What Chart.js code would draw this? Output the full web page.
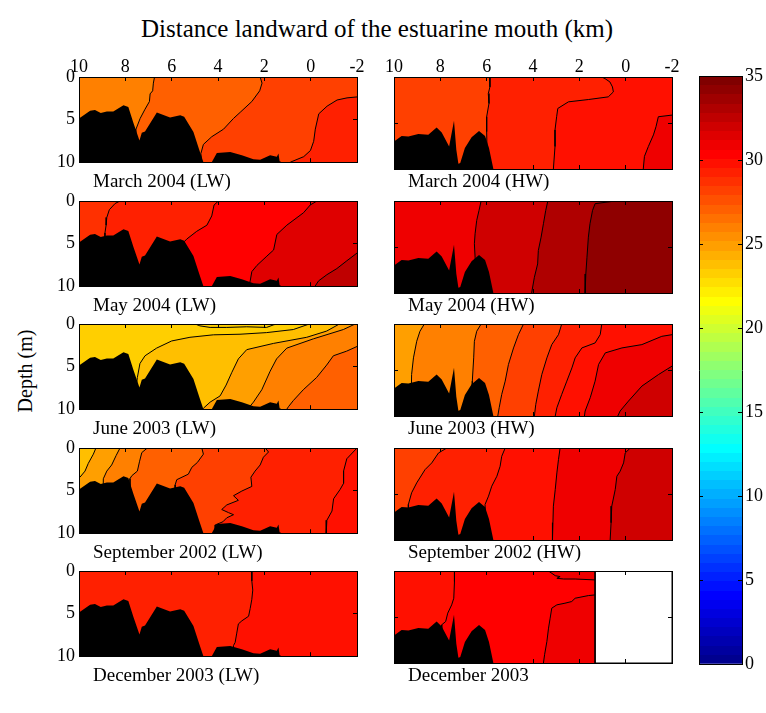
<!DOCTYPE html>
<html>
<head>
<meta charset="utf-8">
<script src="https://cdn.jsdelivr.net/npm/chart.js@4.4.1/dist/chart.umd.min.js"></script>
<style>
body { margin: 0; background: #fff; }
#fig { position: relative; width: 766px; height: 713px; font-family: 'Liberation Serif', 'Times New Roman', serif; color: #000; }
#fig canvas { position: absolute; }
.txt { position: absolute; white-space: nowrap; line-height: 19px; font-size: 19px; }
</style>
</head>
<body>
<div id="fig">
  <div class="txt" style="left:0;width:754px;text-align:center;top:19px;font-size:25px">Distance landward of the estuarine mouth (km)</div>
  <div class="txt" style="left:25px;top:371px;font-size:20px;transform:translate(-50%,-50%) rotate(-90deg)">Depth (m)</div>
</div>
<script>
// axis ticks
const xTicks = [10, 8, 6, 4, 2, 0, -2];
const depthTicks = [0, 5, 10];
const salinityTicks = [0, 5, 10, 15, 20, 25, 30, 35];

// bottom profiles [distance km, depth m]
const bathyLW = [[10,4.86],[9.52,3.96],[9.31,3.88],[9.06,4.24],[8.80,4.06],[8.52,4.06],[8.08,3.31],[7.87,3.53],[7.65,5.40],[7.39,7.45],[7.29,6.55],[7.15,6.40],[6.64,4.17],[6.07,4.75],[5.63,4.50],[5.46,4.68],[5.06,6.47],[4.80,8.63],[4.63,10],[4.27,10],[4.05,8.92],[3.47,8.81],[2.97,9.17],[2.47,9.64],[2.18,9.71],[1.75,9.17],[1.46,9.35],[1.39,8.99],[1.34,9.89],[1.24,10]];
const bathyHW = [[10,7.01],[9.67,6.40],[9.38,6.47],[8.95,6.19],[8.52,6.29],[8.16,5.50],[7.94,6.04],[7.62,7.55],[7.41,4.75],[7.31,7.91],[7.22,9.42],[7.14,9.35],[6.94,7.73],[6.65,6.55],[6.33,5.86],[6.07,6.40],[5.90,7.73],[5.71,10]];

// salinity of each band (left to right) and the isohalines between them
const marchLwLevels = [26, 27, 28, 29];
const marchLwContours = [
  [[6.74,0],[6.79,0.72],[6.82,1.62],[6.93,1.98],[6.96,2.88],[7.15,3.78],[7.36,4.86],[7.54,6.12],[7.56,10]],
  [[2.18,0],[2.10,0.72],[2.20,1.62],[2.54,2.88],[3.04,4.14],[3.33,4.86],[3.76,6.12],[4.27,7.01],[4.63,7.91],[4.74,8.99],[4.70,10]],
  [[-2,2.34],[-1.57,2.45],[-1.14,2.70],[-0.71,3.42],[-0.35,4.32],[-0.20,6.12],[-0.13,7.55],[0.01,8.63],[0.30,9.35],[0.88,10]]
];
const marchHwLevels = [28, 29, 30, 31];
const marchHwContours = [
  [[5.86,0],[5.86,1.08],[5.93,1.8],[5.90,2.88],[6.0,4.32],[6.0,5.94],[5.97,10]],
  [[1.03,0],[0.89,0.18],[0.68,0.54],[0.57,1.08],[0.53,1.62],[0.75,2.16],[1.61,2.45],[2.47,2.70],[2.93,3.42],[2.98,4.32],[3.05,5.76],[3.05,7.55],[3.12,10]],
  [[-2,4.14],[-1.41,4.32],[-1.31,5.40],[-1.20,6.29],[-0.98,7.55],[-0.81,8.63],[-0.76,10]]
];
const mayLwLevels = [28.5, 29.5, 30.5, 31.5, 32.5];
const mayLwContours = [
  [[8.23,0],[8.44,0.29],[8.69,1.02],[8.80,1.93],[8.83,2.84],[8.88,3.75],[8.88,10]],
  [[3.98,0],[4.17,0.47],[4.27,1.75],[4.48,2.84],[4.92,3.56],[5.35,4.47],[5.45,4.75],[5.5,10]],
  [[-0.27,0],[0.02,0.47],[0.31,1.38],[1.03,2.84],[1.46,3.93],[1.60,5.75],[1.89,6.47],[2.32,7.56],[2.54,8.29],[2.61,9.38],[2.68,10]],
  [[-2,6.11],[-1.56,7.02],[-1.13,7.93],[-0.70,8.65],[-0.34,9.38],[-0.19,10]]
];
const mayHwLevels = [31, 32, 33, 34];
const mayHwContours = [
  [[6.24,0],[6.33,1.02],[6.43,2.11],[6.50,3.56],[6.53,4.65],[6.50,6.11],[6.45,10]],
  [[3.36,0],[3.45,1.02],[3.55,2.47],[3.65,3.93],[3.77,5.38],[3.80,6.84],[3.94,8.29],[4.06,10]],
  [[0.45,0],[1.32,0.29],[1.43,1.02],[1.54,2.47],[1.61,3.93],[1.67,6.11],[1.72,7.93],[1.75,10]]
];
const juneLwLevels = [23, 24, 25, 26, 27];
const juneLwContours = [
  [[0.06,0],[0.75,0.65],[1.90,1.01],[3.05,1.20],[4.20,1.27],[5.21,1.56],[6.0,1.99],[6.65,2.83],[7.15,3.73],[7.37,4.64],[7.48,6.27],[7.54,7.54],[7.54,10]],
  [[-1.24,0],[-0.69,0.83],[0.17,1.56],[1.61,2.28],[2.76,3.01],[3.12,4.09],[3.41,5.72],[3.65,7.17],[3.91,8.44],[4.34,9.17],[4.63,9.89],[4.66,10]],
  [[-1.92,0],[-1.41,0.65],[-0.12,1.74],[1.03,2.83],[1.47,4.09],[1.75,5.54],[2.11,7.72],[2.47,9.17],[2.69,9.89],[2.72,10]],
  [[-2,2.64],[-1.55,3.19],[-0.98,3.73],[-0.69,4.82],[-0.26,6.27],[0.32,7.72],[0.75,8.99],[0.96,9.71],[1.03,10]]
];
const juneLwLens = [[4.99,0],[4.78,0.22],[4.34,0.40],[3.62,0.40],[2.76,0.33],[1.90,0.40],[1.61,0.11],[1.47,0]];
const juneHwLevels = [25, 26, 27, 28, 29, 30, 31, 32];
const juneHwContours = [
  [[8.69,0],[8.88,0.79],[9.02,1.88],[9.16,3.68],[9.24,5.49],[9.27,10]],
  [[6.24,0],[6.43,0.79],[6.53,1.88],[6.56,3.68],[6.62,6.21],[6.62,10]],
  [[4.41,0],[4.63,1.16],[4.84,2.60],[5.06,4.40],[5.20,6.21],[5.35,7.65],[5.46,9.10],[5.52,10]],
  [[2.76,0],[2.90,1.16],[3.19,2.24],[3.40,3.68],[3.62,5.49],[3.77,7.29],[3.88,8.74],[3.94,10]],
  [[1.03,0],[1.10,1.16],[1.32,2.06],[1.89,2.60],[2.18,3.68],[2.32,4.77],[2.54,6.21],[2.76,7.65],[2.97,9.10],[3.04,10]],
  [[-2,1.16],[-1.56,1.34],[-0.70,2.24],[0.16,2.60],[0.88,3.14],[1.17,4.40],[1.32,6.21],[1.53,8.01],[1.75,9.46],[1.78,10]],
  [[-2,4.58],[-1.42,5.49],[-0.70,6.75],[-0.12,8.38],[0.24,9.46],[0.34,10]]
];
const sepLwLevels = [24, 25, 26, 27, 28, 29, 30];
const sepLwContours = [
  [[9.27,0],[9.38,0.72],[9.60,1.81],[9.74,2.71],[9.96,3.43],[10,3.5]],
  [[8.23,0],[8.40,0.90],[8.59,1.99],[8.80,2.71],[8.95,3.61],[8.98,10]],
  [[7.05,0],[7.29,0.54],[7.39,1.62],[7.48,2.71],[7.72,3.25],[7.80,3.6],[7.80,10]],
  [[4.70,0],[4.63,0.72],[4.89,1.70],[5.13,2.27],[5.28,3.07],[5.78,3.72],[5.85,4.33],[5.85,10]],
  [[1.96,0],[1.82,0.47],[2.04,1.08],[2.18,1.99],[2.40,2.71],[2.58,3.43],[2.54,4.51],[2.97,5.05],[3.33,5.60],[3.12,6.14],[3.62,6.68],[3.84,7.22],[3.55,7.58],[3.33,7.83],[3.62,8.19],[3.79,8.66],[4.12,9.03],[4.12,10]],
  [[-2,0],[-1.56,1.26],[-1.42,2.71],[-1.42,4.15],[-1.27,4.87],[-0.99,5.96],[-0.92,7.40],[-0.70,8.48],[-0.67,10]]
];
const sepHwLevels = [28, 29, 30, 31, 32];
const sepHwContours = [
  [[7.72,0],[8.08,0.54],[8.37,1.62],[8.66,2.35],[9.02,3.79],[9.24,4.87],[9.38,6.14],[9.38,10]],
  [[5.20,0],[5.35,0.90],[5.42,1.99],[5.56,3.07],[5.78,4.15],[5.92,5.23],[6.07,6.14],[6.0,10]],
  [[2.83,0],[2.90,1.26],[2.97,2.71],[3.04,4.51],[3.12,6.32],[3.14,8.12],[3.16,10]],
  [[-0.20,0],[0.02,0.54],[0.09,1.62],[0.24,2.53],[0.38,3.07],[0.45,4.51],[0.60,6.32],[0.63,8.12],[0.67,10]]
];
const decLwLevels = [29, 30];
const decLwContours = [
  [[2.54,0],[2.54,1.16],[2.50,2.24],[2.54,3.32],[2.61,4.40],[2.68,5.31],[2.97,5.85],[3.12,6.21],[3.19,7.29],[3.26,8.38],[3.33,8.74],[3.36,10]]
];
const decHwLevels = [30, 30.6, 31, 31];
const decHwContours = [
  [[7.39,0],[7.39,1.16],[7.42,2.96],[7.51,3.68],[7.68,4.58],[7.77,5.49],[7.94,5.85],[7.94,10]],
  [[3.33,0],[3.04,0.51],[2.83,0.61],[2.97,0.79],[2.68,0.87],[2.18,0.87],[1.32,0.97]],
  [[1.32,2.6],[1.61,2.67],[2.18,2.96],[2.33,3.32],[2.62,3.50],[2.97,3.68],[3.19,4.04],[3.26,5.13],[3.33,6.21],[3.40,7.65],[3.50,9.10],[3.55,10]]
];
const decHwNoData = [[1.32,0],[1.32,10],[-2,10],[-2,0]];

// MATLAB jet(64), caxis [0 35]
function jet(s) {
  const k = Math.min(64, Math.floor(s / 35 * 64) + 1);
  const r = k <= 24 ? 0 : k <= 40 ? (k - 24) / 16 : k <= 56 ? 1 : (72 - k) / 16;
  const g = k <= 8 ? 0 : k <= 24 ? (k - 8) / 16 : k <= 40 ? 1 : k <= 56 ? (56 - k) / 16 : 0;
  const b = k <= 8 ? (k + 8) / 16 : k <= 24 ? 1 : k <= 40 ? (40 - k) / 16 : 0;
  return 'rgb(' + Math.round(r * 255) + ',' + Math.round(g * 255) + ',' + Math.round(b * 255) + ')';
}

Chart.defaults.font.family = "'Liberation Serif', 'Times New Roman', serif";
Chart.defaults.font.size = 18;
Chart.defaults.color = '#000';

const pts = arr => arr.map(([x, y]) => ({x, y}));
const fig = document.getElementById('fig');
const PW = 278, PH = 92;
const colLeft = [79, 394];
const rowTop = [77, 201, 324, 448, 571];

function addCanvas(left, top, w, h) {
  const c = document.createElement('canvas');
  c.width = w; c.height = h;
  c.style.left = left + 'px'; c.style.top = top + 'px';
  c.style.width = w + 'px'; c.style.height = h + 'px';
  fig.appendChild(c);
  return c;
}

function addCaption(text, left, top) {
  const d = document.createElement('div');
  d.className = 'txt';
  d.textContent = text;
  d.style.left = left + 'px';
  d.style.top = top + 'px';
  fig.appendChild(d);
}

function frameAxis(pos, tickVals, showLabels, size, padding) {
  const horiz = pos === 'top' || pos === 'bottom';
  return {
    type: 'linear',
    position: pos,
    min: horiz ? -2 : 0,
    max: 10,
    reverse: true,
    z: 1,
    afterBuildTicks: s => { s.ticks = tickVals.map(v => ({value: v})); },
    afterFit: s => { if (horiz) s.height = size; else s.width = size; },
    ticks: {display: showLabels, padding: padding, maxRotation: 0, autoSkip: false},
    grid: {drawOnChartArea: false, tickLength: -4, color: '#000', lineWidth: 1, z: 1},
    border: {color: '#000', width: 1, z: 1}
  };
}

function renderPanel(p) {
  const left = colLeft[p.col], top = rowTop[p.row];
  const ctx = addCanvas(left - 34, top - 30, 34 + PW + 14, 30 + PH + 12);
  const datasets = [];
  // background band = first level
  datasets.push({data: pts([[10,0],[10,10],[-2,10],[-2,0]]), fill: 'shape', backgroundColor: jet(p.levels[0]), borderWidth: 0, order: 1000});
  p.contours.forEach((c, i) => {
    const poly = pts(c);
    if (c[c.length - 1][0] === 10) poly.push({x: 10, y: 10});
    poly.push({x: -2, y: 10}, {x: -2, y: 0});
    datasets.push({data: poly, fill: 'shape', backgroundColor: jet(p.levels[i + 1]), borderWidth: 0, order: 999 - i});
  });
  p.contours.concat(p.extraLines || []).forEach(c => {
    datasets.push({data: pts(c), fill: false, borderColor: '#000', borderWidth: 1, order: 10});
  });
  if (p.noData) {
    datasets.push({data: pts(p.noData), fill: 'shape', backgroundColor: '#fff', borderColor: '#000', borderWidth: 1, order: 5});
  }
  datasets.push({data: pts(p.bathy.concat([[10,10]])), fill: 'shape', backgroundColor: '#000', borderWidth: 0, order: 1});

  new Chart(ctx, {
    type: 'line',
    data: {datasets: datasets},
    options: {
      responsive: false,
      animation: false,
      events: [],
      layout: {padding: 0},
      elements: {point: {radius: 0}, line: {tension: 0}},
      plugins: {legend: {display: false}, tooltip: {enabled: false}},
      scales: {
        x: frameAxis('top', xTicks, p.row === 0, 30, 3),
        x2: frameAxis('bottom', xTicks, false, 12, 0),
        y: frameAxis('left', depthTicks, p.col === 0, 34, 8),
        y2: frameAxis('right', depthTicks, false, 14, 0)
      }
    }
  });
  addCaption(p.name, left + 14, top + PH + 2);
}

const panels = [
  {name: 'March 2004 (LW)', row: 0, col: 0, levels: marchLwLevels, contours: marchLwContours, bathy: bathyLW},
  {name: 'March 2004 (HW)', row: 0, col: 1, levels: marchHwLevels, contours: marchHwContours, bathy: bathyHW},
  {name: 'May 2004 (LW)', row: 1, col: 0, levels: mayLwLevels, contours: mayLwContours, bathy: bathyLW},
  {name: 'May 2004 (HW)', row: 1, col: 1, levels: mayHwLevels, contours: mayHwContours, bathy: bathyHW},
  {name: 'June 2003 (LW)', row: 2, col: 0, levels: juneLwLevels, contours: juneLwContours, bathy: bathyLW, extraLines: [juneLwLens]},
  {name: 'June 2003 (HW)', row: 2, col: 1, levels: juneHwLevels, contours: juneHwContours, bathy: bathyHW},
  {name: 'September 2002 (LW)', row: 3, col: 0, levels: sepLwLevels, contours: sepLwContours, bathy: bathyLW},
  {name: 'September 2002 (HW)', row: 3, col: 1, levels: sepHwLevels, contours: sepHwContours, bathy: bathyHW},
  {name: 'December 2003 (LW)', row: 4, col: 0, levels: decLwLevels, contours: decLwContours, bathy: bathyLW},
  {name: 'December 2003', row: 4, col: 1, levels: decHwLevels, contours: decHwContours, bathy: bathyHW, noData: decHwNoData}
];
panels.forEach(renderPanel);

// colour bar
const cbCanvas = addCanvas(699 - 10, 76 - 20, 10 + 43 + 30, 20 + 588 + 20);
new Chart(cbCanvas, {
  type: 'bar',
  data: {
    labels: [''],
    datasets: [{
      data: [[salinityTicks[0], salinityTicks[salinityTicks.length - 1]]],
      borderWidth: 0,
      barPercentage: 1,
      categoryPercentage: 1,
      backgroundColor: c => {
        const a = c.chart.chartArea;
        if (!a) return 'transparent';
        const g = c.chart.ctx.createLinearGradient(0, a.bottom, 0, a.top);
        for (let k = 0; k < 64; k++) {
          const col = jet((k + 0.5) * 35 / 64);
          g.addColorStop(k / 64, col);
          g.addColorStop((k + 1) / 64, col);
        }
        return g;
      }
    }]
  },
  options: {
    responsive: false,
    animation: false,
    events: [],
    layout: {padding: 0},
    plugins: {legend: {display: false}, tooltip: {enabled: false}},
    scales: {
      x: {position: 'bottom', z: 1, ticks: {display: false}, grid: {display: false}, border: {color: '#000', width: 1, z: 1}, afterFit: s => { s.height = 20; }},
      x2: {type: 'category', labels: [''], position: 'top', z: 1, ticks: {display: false}, grid: {display: false}, border: {color: '#000', width: 1, z: 1}, afterFit: s => { s.height = 20; }},
      y: {
        position: 'right', min: 0, max: 35, z: 1,
        afterBuildTicks: s => { s.ticks = salinityTicks.map(v => ({value: v})); },
        afterFit: s => { s.width = 30; },
        ticks: {padding: 7},
        grid: {drawOnChartArea: false, tickLength: -4, color: '#000', z: 1},
        border: {color: '#000', width: 1, z: 1}
      },
      y2: {
        type: 'linear', position: 'left', min: 0, max: 35, z: 1,
        afterBuildTicks: s => { s.ticks = salinityTicks.map(v => ({value: v})); },
        afterFit: s => { s.width = 10; },
        ticks: {display: false},
        grid: {drawOnChartArea: false, tickLength: -4, color: '#000', z: 1},
        border: {color: '#000', width: 1, z: 1}
      }
    }
  }
});
</script>
</body>
</html>
